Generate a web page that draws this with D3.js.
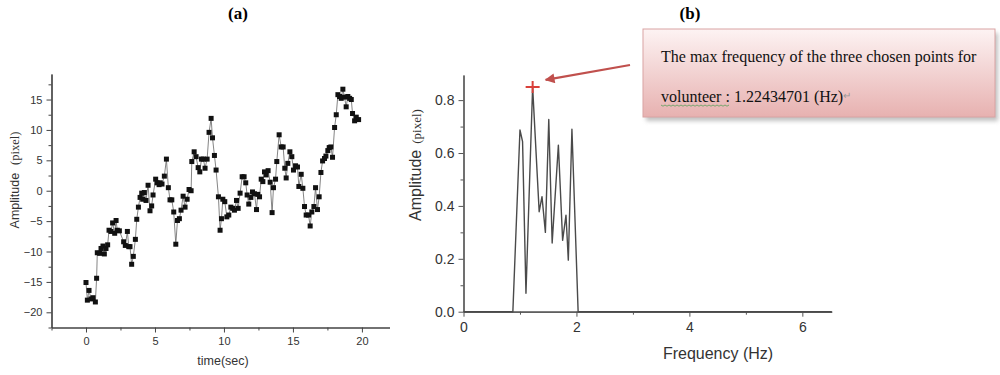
<!DOCTYPE html>
<html>
<head>
<meta charset="utf-8">
<script src="https://cdn.jsdelivr.net/npm/d3@7"></script>
<style>
  body { margin: 0; background: #fff; }
  svg { display: block; }
</style>
</head>
<body>
<svg width="1000" height="375"></svg>
<script>
// (a) amplitude vs time
const timeSec = [0.00, 0.10, 0.22, 0.36, 0.51, 0.68, 0.77, 0.82, 0.99, 1.09, 1.23, 1.33, 1.45, 1.57, 1.67, 1.81,
  1.93, 2.08, 2.18, 2.27, 2.42, 2.73, 2.85, 3.00, 3.10, 3.19, 3.31, 3.43, 3.58, 3.68, 3.80, 3.92,
  4.04, 4.11, 4.23, 4.35, 4.50, 4.64, 4.76, 4.86, 5.05, 5.15, 5.30, 5.37, 5.51, 5.68, 5.83, 5.97,
  6.09, 6.22, 6.36, 6.51, 6.63, 6.77, 6.89, 7.04, 7.18, 7.33, 7.47, 7.62, 7.67, 7.84, 7.98, 8.13,
  8.25, 8.37, 8.51, 8.63, 8.78, 8.92, 9.07, 9.17, 9.31, 9.43, 9.60, 9.72, 9.82, 9.92, 10.06, 10.21,
  10.35, 10.50, 10.64, 10.76, 10.91, 11.03, 11.17, 11.32, 11.46, 11.58, 11.68, 11.80, 11.95, 12.07, 12.21, 12.36,
  12.45, 12.58, 12.70, 12.82, 12.94, 13.06, 13.20, 13.35, 13.49, 13.59, 13.74, 13.83, 14.00, 14.15, 14.29, 14.41,
  14.51, 14.63, 14.78, 14.92, 15.04, 15.19, 15.33, 15.43, 15.60, 15.72, 15.84, 15.96, 16.13, 16.25, 16.37, 16.52,
  16.64, 16.78, 16.90, 17.03, 17.15, 17.29, 17.39, 17.53, 17.63, 17.75, 17.87, 18.02, 18.14, 18.26, 18.38, 18.50,
  18.62, 18.74, 18.86, 18.98, 19.11, 19.23, 19.32, 19.47, 19.59, 19.76];
const amplitudePx = [-15.1, -18.0, -16.4, -17.8, -17.6, -18.3, -14.4, -10.2, -10.3, -9.5, -9.1, -10.4, -9.5, -8.9, -6.5, -6.7,
  -5.3, -7.0, -4.9, -6.5, -6.6, -8.4, -9.0, -6.7, -9.2, -9.2, -12.1, -10.8, -8.0, -4.7, -2.7, -1.1,
  -0.4, -1.4, -0.3, -1.6, 0.9, -3.3, -2.5, -0.7, 1.9, 1.3, 1.0, 1.3, 1.1, 2.4, 5.2, 0.5,
  -1.5, -1.5, -3.5, -8.8, -4.9, -4.6, -3.2, -0.9, -2.7, -1.4, 0.2, 0.0, 4.8, 6.4, 5.6, 3.8,
  3.1, 5.2, 5.2, 3.7, 5.2, 9.6, 11.9, 8.7, 5.8, 3.4, -1.0, -6.5, -4.6, -1.4, -1.8, -4.3,
  -4.0, -2.7, -2.9, -3.2, -1.6, -2.9, -0.4, 2.3, 2.3, 1.3, -0.7, -2.2, -1.1, -0.2, -0.5, -3.1,
  -0.6, -1.0, 1.9, 1.5, 3.1, 2.6, 3.3, 1.4, -3.6, 0.5, 1.9, 4.8, 9.2, 7.2, 7.2, 3.7,
  2.1, 4.5, 6.4, 5.6, 3.4, 4.1, 3.9, 0.7, 2.7, 0.4, -2.6, -4.0, -4.0, -5.8, -3.5, -2.6,
  0.5, -3.1, -1.0, 3.0, 4.9, 5.3, 5.7, 6.6, 7.1, 7.2, 5.5, 10.4, 12.5, 15.8, 15.5, 15.2,
  16.7, 15.4, 13.8, 15.5, 15.2, 15.0, 12.7, 11.5, 12.1, 11.7];
const timeTicks = [0, 5, 10, 15, 20];
const timeMinor = [-2.5, 2.5, 7.5, 12.5, 17.5];
const ampTicks = [-20, -15, -10, -5, 0, 5, 10, 15];
const ampMinor = [-22.5, -17.5, -12.5, -7.5, -2.5, 2.5, 7.5, 12.5, 17.5];

// (b) amplitude spectrum
const freqHz = [0, 0.874, 1.00, 1.046, 1.106, 1.224, 1.34, 1.39, 1.45, 1.51, 1.57, 1.68, 1.755, 1.815, 1.856, 1.92, 2.03, 6.52];
const specAmp = [0, 0, 0.687, 0.643, 0.07, 0.85, 0.378, 0.435, 0.30, 0.727, 0.26, 0.63, 0.27, 0.365, 0.195, 0.69, 0, 0];
const freqTicks = [0, 2, 4, 6];
const freqMinor = [1, 3, 5];
const specTicks = [0, 0.2, 0.4, 0.6, 0.8];
const specMinor = [0.1, 0.3, 0.5, 0.7];
const peakFreq = 1.22434701;
const peakAmp = 0.85;
const noteLine1 = "The max frequency of the three chosen points for";
const noteWord = "volunteer :";
const noteValue = " 1.22434701 (Hz)";

const sans = "'Liberation Sans', Arial, sans-serif";
const serif = "'Liberation Serif', 'Times New Roman', serif";

const svg = d3.select("svg");

// panel titles
svg.append("text").attr("x", 238).attr("y", 19).attr("text-anchor", "middle")
  .attr("font-family", serif).attr("font-weight", "bold").attr("font-size", 17).text("(a)");
svg.append("text").attr("x", 690).attr("y", 19).attr("text-anchor", "middle")
  .attr("font-family", serif).attr("font-weight", "bold").attr("font-size", 17).text("(b)");

const styleAxis = (g, size, color) => {
  g.select(".domain").attr("stroke", color).attr("stroke-width", 1.2);
  g.selectAll(".tick line").attr("stroke", color).attr("stroke-width", 1);
  g.selectAll(".tick text").attr("fill", "#333").attr("font-family", sans).attr("font-size", size);
};

// ---------- panel (a) ----------
const xa = d3.scaleLinear().domain([-2.5, 22]).range([51.5, 389.5]);
const ya = d3.scaleLinear().domain([-22.5, 19.2]).range([327.5, 74]);

const ga = svg.append("g");

ga.append("g").attr("transform", `translate(0,${ya(-22.5)})`)
  .call(d3.axisBottom(xa).tickValues(timeMinor).tickSize(3).tickFormat("").tickSizeOuter(0))
  .call(g => styleAxis(g, 11, "#444"));
ga.append("g").attr("transform", `translate(0,${ya(-22.5)})`)
  .call(d3.axisBottom(xa).tickValues(timeTicks).tickSize(5).tickPadding(5).tickFormat(d3.format("d")).tickSizeOuter(0))
  .call(g => styleAxis(g, 11, "#444"));
ga.append("g").attr("transform", `translate(${xa(-2.5)},0)`)
  .call(d3.axisLeft(ya).tickValues(ampMinor).tickSize(3).tickFormat("").tickSizeOuter(0))
  .call(g => styleAxis(g, 11, "#444"));
ga.append("g").attr("transform", `translate(${xa(-2.5)},0)`)
  .call(d3.axisLeft(ya).tickValues(ampTicks).tickSize(5).tickPadding(4).tickFormat(d3.format("d")).tickSizeOuter(0))
  .call(g => styleAxis(g, 11, "#444"));

const seriesA = timeSec.map((t, i) => ({ t, v: amplitudePx[i] }));

ga.append("path")
  .datum(seriesA)
  .attr("fill", "none")
  .attr("stroke", "#666")
  .attr("stroke-width", 0.8)
  .attr("d", d3.line().x(d => xa(d.t)).y(d => ya(d.v)));

ga.selectAll("rect.pt")
  .data(seriesA)
  .join("rect")
  .attr("class", "pt")
  .attr("x", d => xa(d.t) - 2.5)
  .attr("y", d => ya(d.v) - 2.5)
  .attr("width", 5)
  .attr("height", 5)
  .attr("fill", "#111");

ga.append("text").attr("x", 223).attr("y", 365).attr("text-anchor", "middle")
  .attr("font-family", sans).attr("font-size", 12.5).attr("fill", "#333").text("time(sec)");

const labA = ga.append("text").attr("transform", "translate(19,180) rotate(-90)")
  .attr("text-anchor", "middle").attr("fill", "#333");
labA.append("tspan").attr("font-family", sans).attr("font-size", 12.5).text("Amplitude");
labA.append("tspan").attr("font-family", serif).attr("font-size", 12.5).attr("dx", 8).text("(pixel)");

// ---------- panel (b) ----------
const xb = d3.scaleLinear().domain([0, 6.52]).range([463.5, 831.7]);
const yb = d3.scaleLinear().domain([0, 0.895]).range([311.7, 75]);

const gb = svg.append("g");

gb.append("g").attr("transform", `translate(0,${yb(0)})`)
  .call(d3.axisBottom(xb).tickValues(freqMinor).tickSize(3).tickFormat("").tickSizeOuter(0))
  .call(g => styleAxis(g, 14, "#555"));
gb.append("g").attr("transform", `translate(0,${yb(0)})`)
  .call(d3.axisBottom(xb).tickValues(freqTicks).tickSize(5).tickPadding(5).tickFormat(d3.format("d")).tickSizeOuter(0))
  .call(g => styleAxis(g, 14, "#555"));
gb.append("g").attr("transform", `translate(${xb(0)},0)`)
  .call(d3.axisLeft(yb).tickValues(specMinor).tickSize(3).tickFormat("").tickSizeOuter(0))
  .call(g => styleAxis(g, 14, "#555"));
gb.append("g").attr("transform", `translate(${xb(0)},0)`)
  .call(d3.axisLeft(yb).tickValues(specTicks).tickSize(5).tickPadding(4).tickFormat(d3.format(".1f")).tickSizeOuter(0))
  .call(g => styleAxis(g, 14, "#555"));

gb.append("path")
  .datum(freqHz.map((f, i) => ({ f, a: specAmp[i] })))
  .attr("fill", "none")
  .attr("stroke", "#4a4a4a")
  .attr("stroke-width", 1.4)
  .attr("stroke-linejoin", "round")
  .attr("d", d3.line().x(d => xb(d.f)).y(d => yb(d.a)));

gb.append("text").attr("x", 718).attr("y", 359).attr("text-anchor", "middle")
  .attr("font-family", sans).attr("font-size", 16).attr("fill", "#333").text("Frequency (Hz)");

const labB = gb.append("text").attr("transform", "translate(421,165) rotate(-90)")
  .attr("text-anchor", "middle").attr("fill", "#333");
labB.append("tspan").attr("font-family", sans).attr("font-size", 16).text("Amplitude");
labB.append("tspan").attr("font-family", serif).attr("font-size", 13).attr("dx", 6).text("(pixel)");

// peak marker
const px = xb(peakFreq), py = yb(peakAmp);
gb.append("path")
  .attr("d", `M${px - 7},${py}H${px + 7}M${px},${py - 6}V${py + 6}`)
  .attr("stroke", "#d9403a").attr("stroke-width", 2);

// ---------- annotation ----------
const defs = svg.append("defs");
const grad = defs.append("linearGradient").attr("id", "noteFill")
  .attr("x1", 0).attr("y1", 0).attr("x2", 0).attr("y2", 1);
grad.append("stop").attr("offset", "0%").attr("stop-color", "#fdf3f3");
grad.append("stop").attr("offset", "100%").attr("stop-color", "#e7b1b0");
defs.append("filter").attr("id", "blur").append("feGaussianBlur").attr("stdDeviation", 2);
defs.append("marker").attr("id", "arrowHead")
  .attr("viewBox", "0 0 10 10").attr("refX", 9).attr("refY", 5)
  .attr("markerWidth", 5).attr("markerHeight", 4.5).attr("orient", "auto")
  .append("path").attr("d", "M0,0L10,5L0,10z").attr("fill", "#c0504d");

const box = { x: 643, y: 29, w: 352, h: 88 };
svg.append("rect").attr("x", box.x + 3).attr("y", box.y + 4).attr("width", box.w).attr("height", box.h)
  .attr("fill", "#999").attr("opacity", 0.6).attr("filter", "url(#blur)");
svg.append("rect").attr("x", box.x).attr("y", box.y).attr("width", box.w).attr("height", box.h)
  .attr("fill", "url(#noteFill)").attr("stroke", "#d9a3a3").attr("stroke-width", 1);

svg.append("line")
  .attr("x1", box.x - 13).attr("y1", 65)
  .attr("x2", px + 13).attr("y2", py - 7)
  .attr("stroke", "#c0504d").attr("stroke-width", 2.2)
  .attr("marker-end", "url(#arrowHead)");

svg.append("text").attr("x", 661).attr("y", 62)
  .attr("font-family", serif).attr("font-size", 16).attr("fill", "#111").text(noteLine1);

const line2 = svg.append("text").attr("x", 661).attr("y", 102)
  .attr("font-family", serif).attr("font-size", 16).attr("fill", "#111");
const word = line2.append("tspan").text(noteWord);
line2.append("tspan").text(noteValue);
line2.append("tspan").attr("fill", "#999").attr("font-size", 10).attr("dy", -3).text("\u21B5");

// spell-check squiggle under the first word
const ww = word.node().getComputedTextLength();
const sq = d3.range(0, ww, 2).map((d, i) => [661 + d, 105 + (i % 2 ? 1.2 : 0)]);
svg.append("path").attr("d", d3.line()(sq)).attr("fill", "none")
  .attr("stroke", "#5aa05a").attr("stroke-width", 0.8);
</script>
</body>
</html>
